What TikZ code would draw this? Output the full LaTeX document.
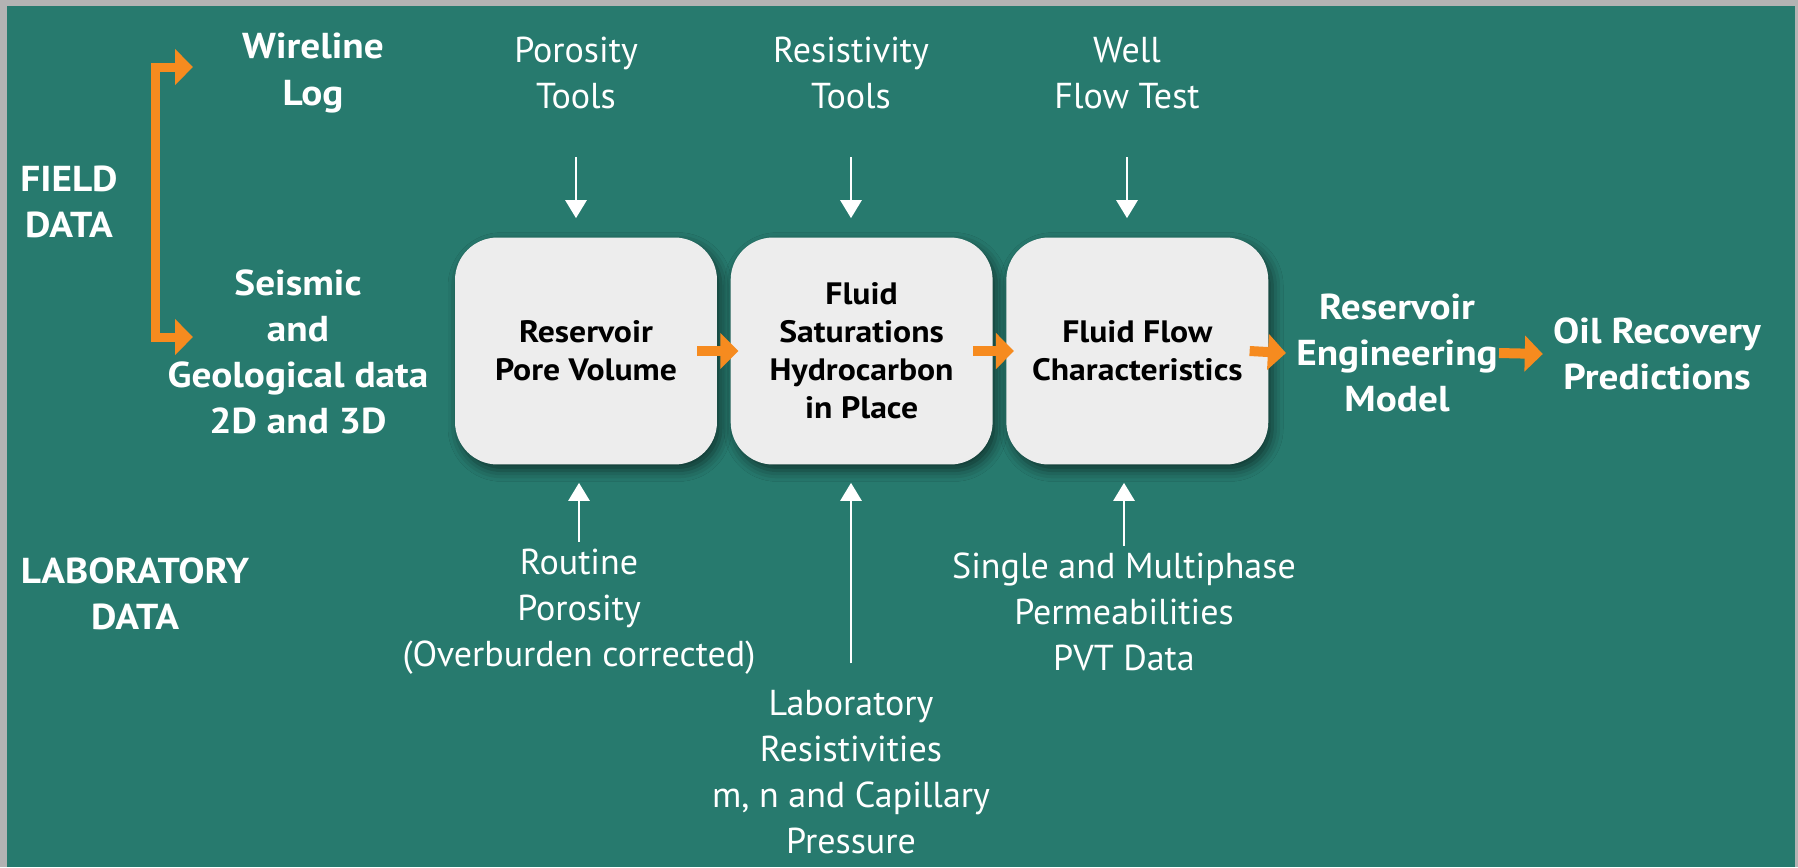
\documentclass[tikz,border=0pt]{standalone}
\usepackage{fontspec}
\setmainfont{PT Sans}[BoldFeatures={FakeStretch=1.09}]
\usetikzlibrary{positioning}
\usetikzlibrary{arrows.meta}
\usetikzlibrary{shadows.blur}

\definecolor{bgteal}{RGB}{39,122,110}
\definecolor{framegrey}{RGB}{179,179,179}
\definecolor{boxgrey}{RGB}{237,237,237}
\definecolor{flowor}{RGB}{246,139,31}

\newcommand{\whitesize}{\fontsize{20.5}{26.2}\selectfont}
\newcommand{\boxsize}{\fontsize{17.6}{21.6}\selectfont}

\begin{document}
\begin{tikzpicture}[%
    x=0.02cm, y=-0.02cm,
    node distance=0.26cm,
procbox/.style={rectangle, align=center, rounded corners=0.85cm, fill=boxgrey, text=black, font=\boxsize\bfseries, minimum width=5.24cm, minimum height=4.54cm, blur shadow={shadow xshift=0.08cm, shadow yshift=-0.12cm, shadow blur radius=0.22cm, shadow opacity=55}},
intext/.style={align=center, inner sep=0pt, text=white, font=\whitesize},
boldtext/.style={intext, font=\whitesize\bfseries},
whitearrow/.style={draw=white, line width=0.055cm, -{Triangle[length=0.36cm, width=0.42cm]}},
orangearrow/.style={draw=flowor, line width=0.2cm, -{Triangle[length=0.36cm, width=0.7cm]}},
bracket/.style={draw=flowor, line width=0.18cm, {Triangle[length=0.36cm, width=0.7cm]}-{Triangle[length=0.36cm, width=0.7cm]}}
]

% frame and background
\fill[framegrey] (0,0) rectangle (1798,867);
\fill[bgteal] (7,6) rectangle (1795,867);

% process boxes
\node[procbox]      (porevol) at (586,351) {Reservoir\\Pore Volume};
\node[procbox]      (saturation) [right=of porevol] {Fluid\\Saturations\\Hydrocarbon\\in Place};
\node[procbox]      (fluidflow) [right=of saturation] {Fluid Flow\\Characteristics};

% field data
\node[boldtext]     (fielddata) at (69,202) {FIELD\\DATA};
\node[boldtext]     (wireline) at (313,73) {Wireline\\Log};
\node[boldtext]     (seismic) at (298,352) {Seismic\\and\\Geological data\\2D and 3D};
\coordinate         (wiretip) at (193,67);
\coordinate         (seistip) at (193,337);

% laboratory data
\node[boldtext]     (labdata) at (135,594) {LABORATORY\\DATA};

% tool inputs
\node[intext]       (porotools) at (576,73) {Porosity\\Tools};
\node[intext]       (restools) at (851,73) {Resistivity\\Tools};
\node[intext]       (flowtest) at (1127,73) {Well\\Flow Test};

% core inputs
\node[intext]       (routine) at (579,612) {Routine\\Porosity\\(Overburden corrected)};
\node[intext]       (labres) at (851,772) {Laboratory\\Resistivities\\m, n and Capillary\\Pressure};
\node[intext]       (multiphase) at (1124,612) {Single and Multiphase\\Permeabilities\\PVT Data};

% outputs
\node[boldtext]     (engmodel) at (1397,353) {Reservoir\\Engineering\\Model};
\node[boldtext]     (recovery) at (1657,354) {Oil Recovery\\Predictions};

% field data bracket
\draw[bracket] (wiretip) -- ++(-38,0) |- (seistip);

% top arrows
\draw[whitearrow, shorten <=0.96cm, shorten >=0.38cm] (porotools.south) -- (porotools.south |- porevol.north);
\draw[whitearrow, shorten <=0.96cm, shorten >=0.38cm] (restools.south) -- (restools.south |- saturation.north);
\draw[whitearrow, shorten <=0.96cm, shorten >=0.38cm] (flowtest.south) -- (flowtest.south |- fluidflow.north);

% bottom arrows
\draw[whitearrow, shorten <=0.14cm, shorten >=0.36cm] (routine.north) -- (routine.north |- porevol.south);
\draw[whitearrow, shorten <=0.53cm, shorten >=0.36cm] (labres.north) -- (labres.north |- saturation.south);
\draw[whitearrow, shorten <=0.14cm, shorten >=0.36cm] (multiphase.north) -- (multiphase.north |- fluidflow.south);

% main flow
\draw[orangearrow] ([xshift=-0.4cm]porevol.east) -- ([xshift=0.16cm]saturation.west);
\draw[orangearrow] ([xshift=-0.4cm]saturation.east) -- ([xshift=0.16cm]fluidflow.west);
\draw[orangearrow] ([xshift=-0.38cm]fluidflow.east) -- ([xshift=-0.2cm]engmodel.west);
\draw[orangearrow] ([xshift=0.02cm]engmodel.east) -- ([xshift=-0.2cm]recovery.west);

\end{tikzpicture}
\end{document}
